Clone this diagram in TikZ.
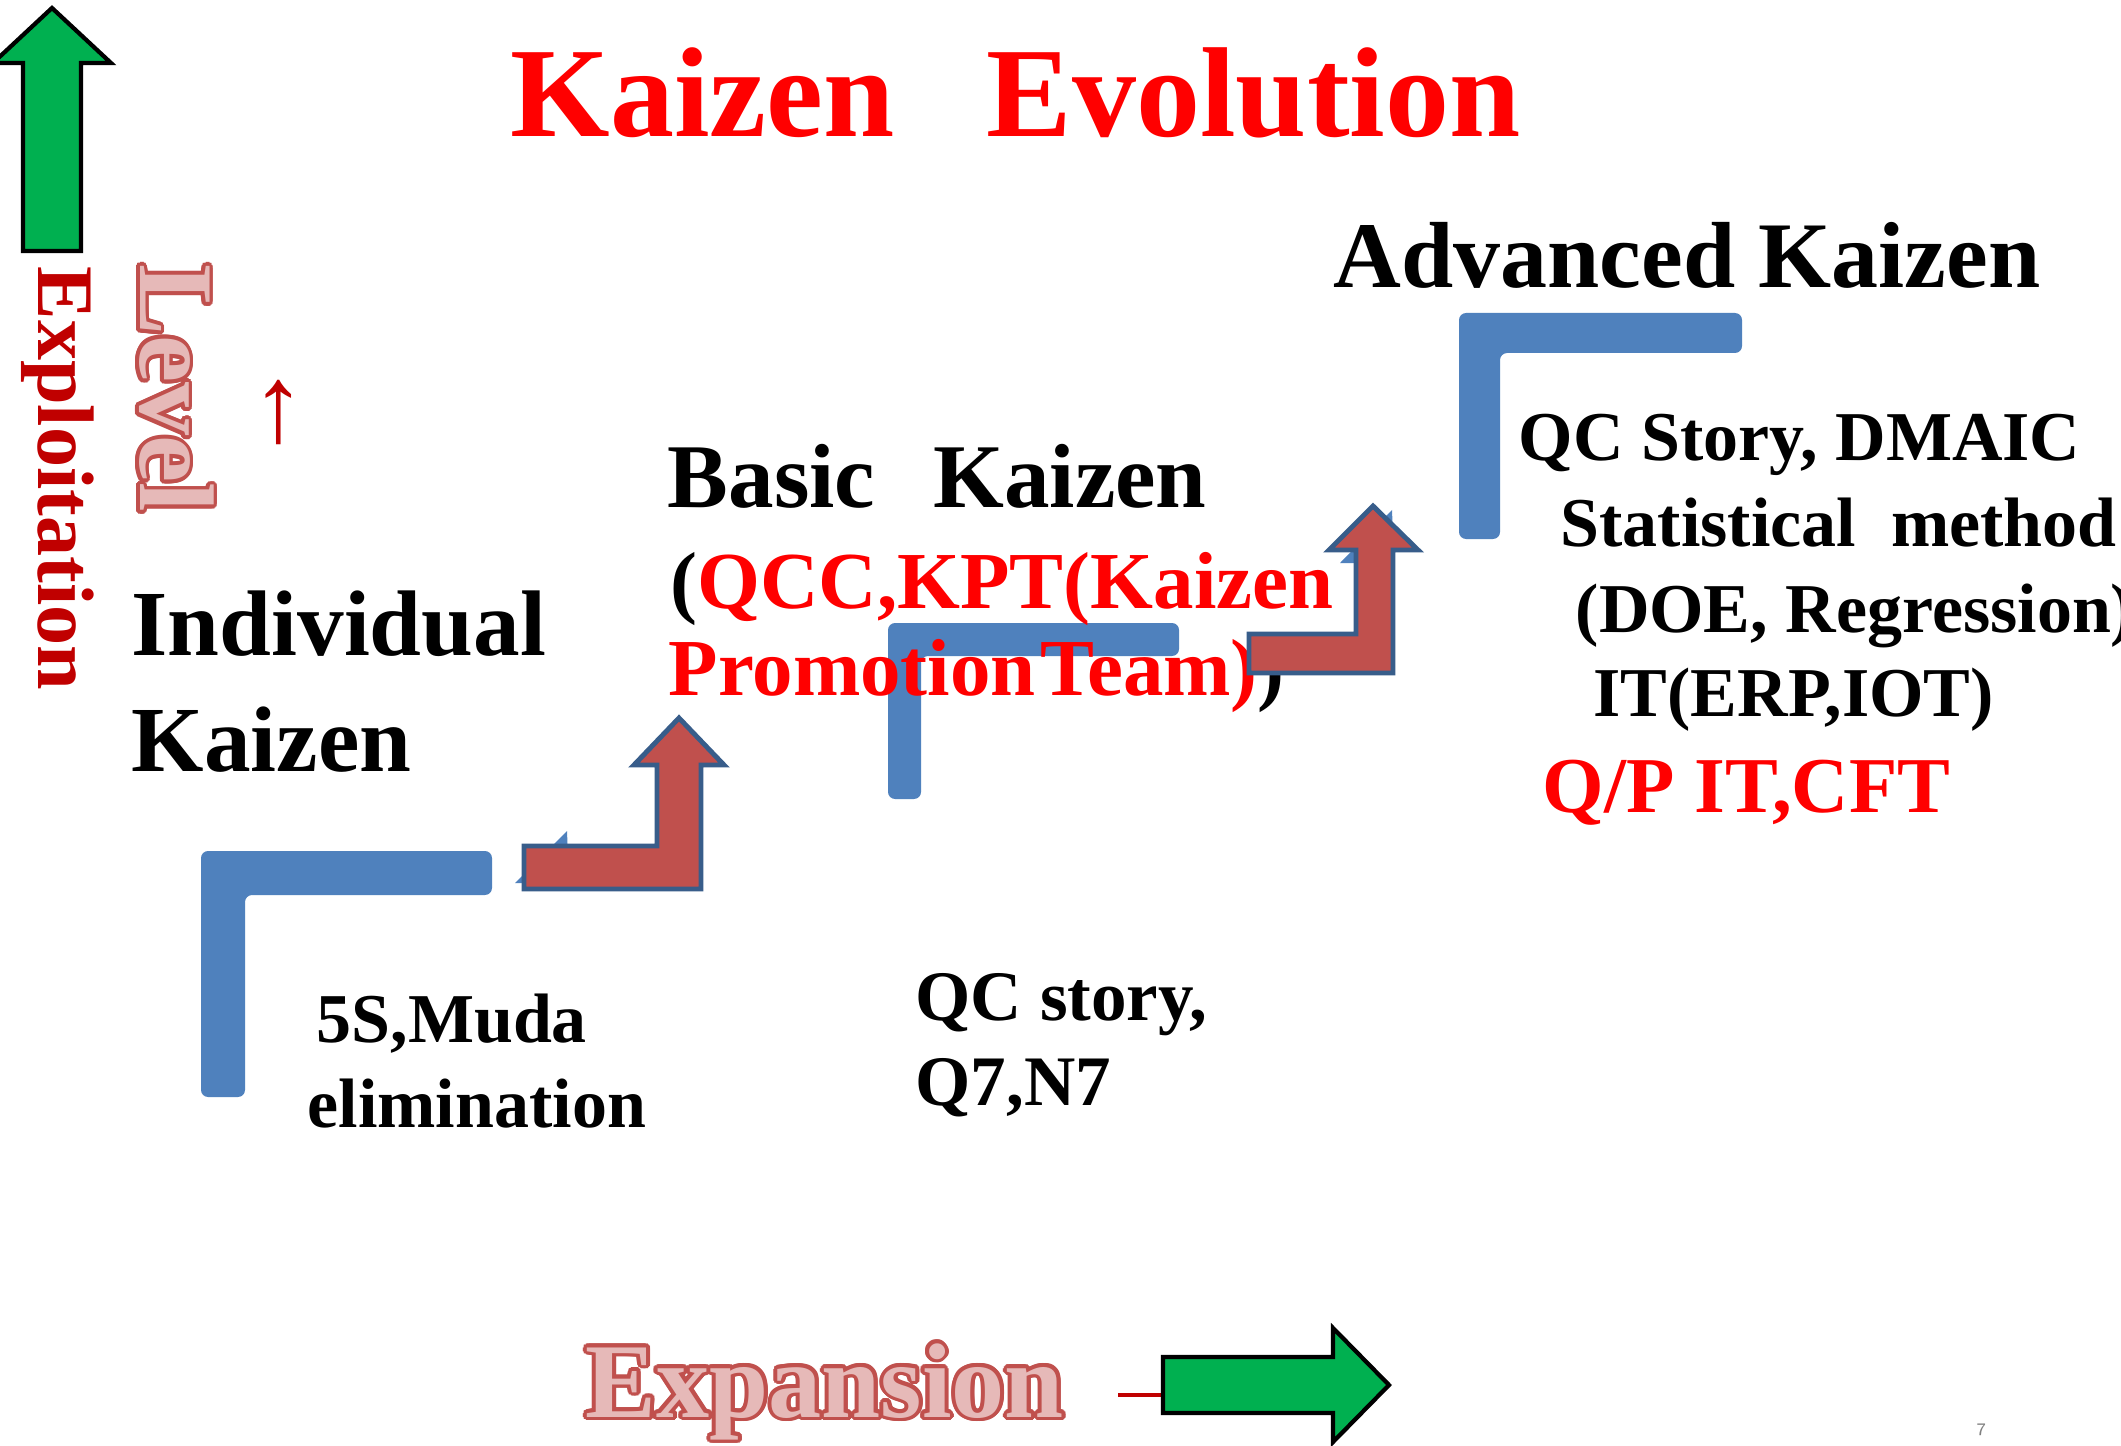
\documentclass[tikz,border=0pt]{standalone}
\usepackage{fontspec}
\setmainfont{Liberation Serif}
\usepackage{contour}
\contourlength{1.1pt}

\definecolor{stepblue}{HTML}{4F81BD}
\definecolor{arrowred}{HTML}{C0504D}
\definecolor{arrowedge}{HTML}{385D8A}
\definecolor{darkred}{HTML}{C00000}
\definecolor{outlinefill}{HTML}{E6B9B8}
\definecolor{greenfill}{HTML}{00B050}

\begin{document}
\begin{tikzpicture}[x=0.01cm, y=-0.01cm]
    \tikzset{stairbar/.style={fill=stepblue, rounded corners=2},
             bendarrow/.style={fill=arrowred, draw=arrowedge, line width=1.4pt, line join=miter},
             axisarrow/.style={fill=greenfill, draw=black, line width=1.2pt, line join=miter},
             txt/.style={anchor=base west, inner sep=0pt, font=\bfseries\fontsize{#1pt}{#1pt}\selectfont}}
    \fill[white] (0,0) rectangle (2121,1446);
    \useasboundingbox (0,0) rectangle (2121,1446);

    % the three steps
    \fill[stairbar] (201,851) -- (492,851) -- (492,895) -- (245,895) -- (245,1097) -- (201,1097) -- cycle;
    \fill[stairbar] (888,623) -- (1179,623) -- (1179,656) -- (921,656) -- (921,799) -- (888,799) -- cycle;
    \fill[stairbar] (1459,313) -- (1742,313) -- (1742,353) -- (1500,353) -- (1500,539) -- (1459,539) -- cycle;
    \fill[stepblue] (515,883) -- (567,831) -- (569,883) -- cycle;
    \fill[stepblue] (1340,563) -- (1392,510) -- (1394,563) -- cycle;

    % axes
    \draw[axisarrow] (23,251) -- (23,63) -- (-7,63) -- (52,8) -- (111,63) -- (81,63) -- (81,251) -- cycle;
    \node[txt=22.8, text=darkred, rotate=-90] (explo) at (38,266) {Exploitation};
    \node[txt=30.2, text=outlinefill, rotate=-90] (level) at (140,264) {\contour{arrowred}{Level}};
    \node[inner sep=0pt, font=\fontsize{31pt}{31pt}\selectfont, text=darkred] (uparr) at (279,412) {↑};
    \node[txt=30.2, text=outlinefill] (expan) at (585,1417) {\contour{arrowred}{Expansion}};
    \draw[darkred, line width=1.1pt] (1118,1395) -- (1163,1395);
    \draw[axisarrow] (1163,1357) -- (1333,1357) -- (1333,1328) -- (1389,1385) -- (1333,1442) -- (1333,1413) -- (1163,1413) -- cycle;

    \node[txt=36.4, text=red] (title) at (510,137) {Kaizen\hspace{0.72em}Evolution};

    % individual level
    \node[txt=26.5] (indiv) at (131,656) {Individual};
    \node[txt=26.5] (indivk) at (131,771) {Kaizen};
    \node[txt=19.9] (fives) at (316,1042) {5S,Muda};
    \node[txt=19.9] (muda) at (307,1127) {elimination};

    % basic level
    \node[txt=25.9] (basic) at (667,508) {Basic\hspace{0.64em}Kaizen};
    \node[txt=23, text=red] (qcc) at (670,608) {\textcolor{black}{(}QCC,KPT(Kaizen};
    \node[txt=23, text=red] (kpt) at (668,695) {Promotion\hspace{0.06em}Team)\textcolor{black}{)}};
    \node[txt=20.2] (qcstory) at (915,1020) {QC story,};
    \node[txt=20.2] (qseven) at (915,1105) {Q7,N7};

    % advanced level
    \node[txt=26.7] (adv) at (1333,288) {Advanced Kaizen};
    \node[txt=19.9] (dmaic) at (1518,461) {QC Story, DMAIC};
    \node[txt=19.9] (stat) at (1560,547) {Statistical\ \ method};
    \node[txt=19.9] (doe) at (1575,633) {(DOE, Regression)};
    \node[txt=19.9] (erp) at (1593,716) {IT(ERP,IOT)};
    \node[txt=22.5, text=red] (qpit) at (1542,812) {Q/P IT,CFT};

    % bent arrows between the steps
    \draw[bendarrow] (524,846) -- (657,846) -- (657,765) -- (634,765) -- (679,718) -- (724,765) -- (701,765) -- (701,889) -- (524,889) -- cycle;
    \draw[bendarrow] (1249,634) -- (1356,634) -- (1356,550) -- (1329,550) -- (1373,506) -- (1418,550) -- (1393,550) -- (1393,673) -- (1249,673) -- cycle;

    \node[anchor=base west, inner sep=0pt, font=\sffamily\fontsize{5pt}{5pt}\selectfont, text=gray] (pageno) at (1976,1435) {7};
\end{tikzpicture}
\end{document}
